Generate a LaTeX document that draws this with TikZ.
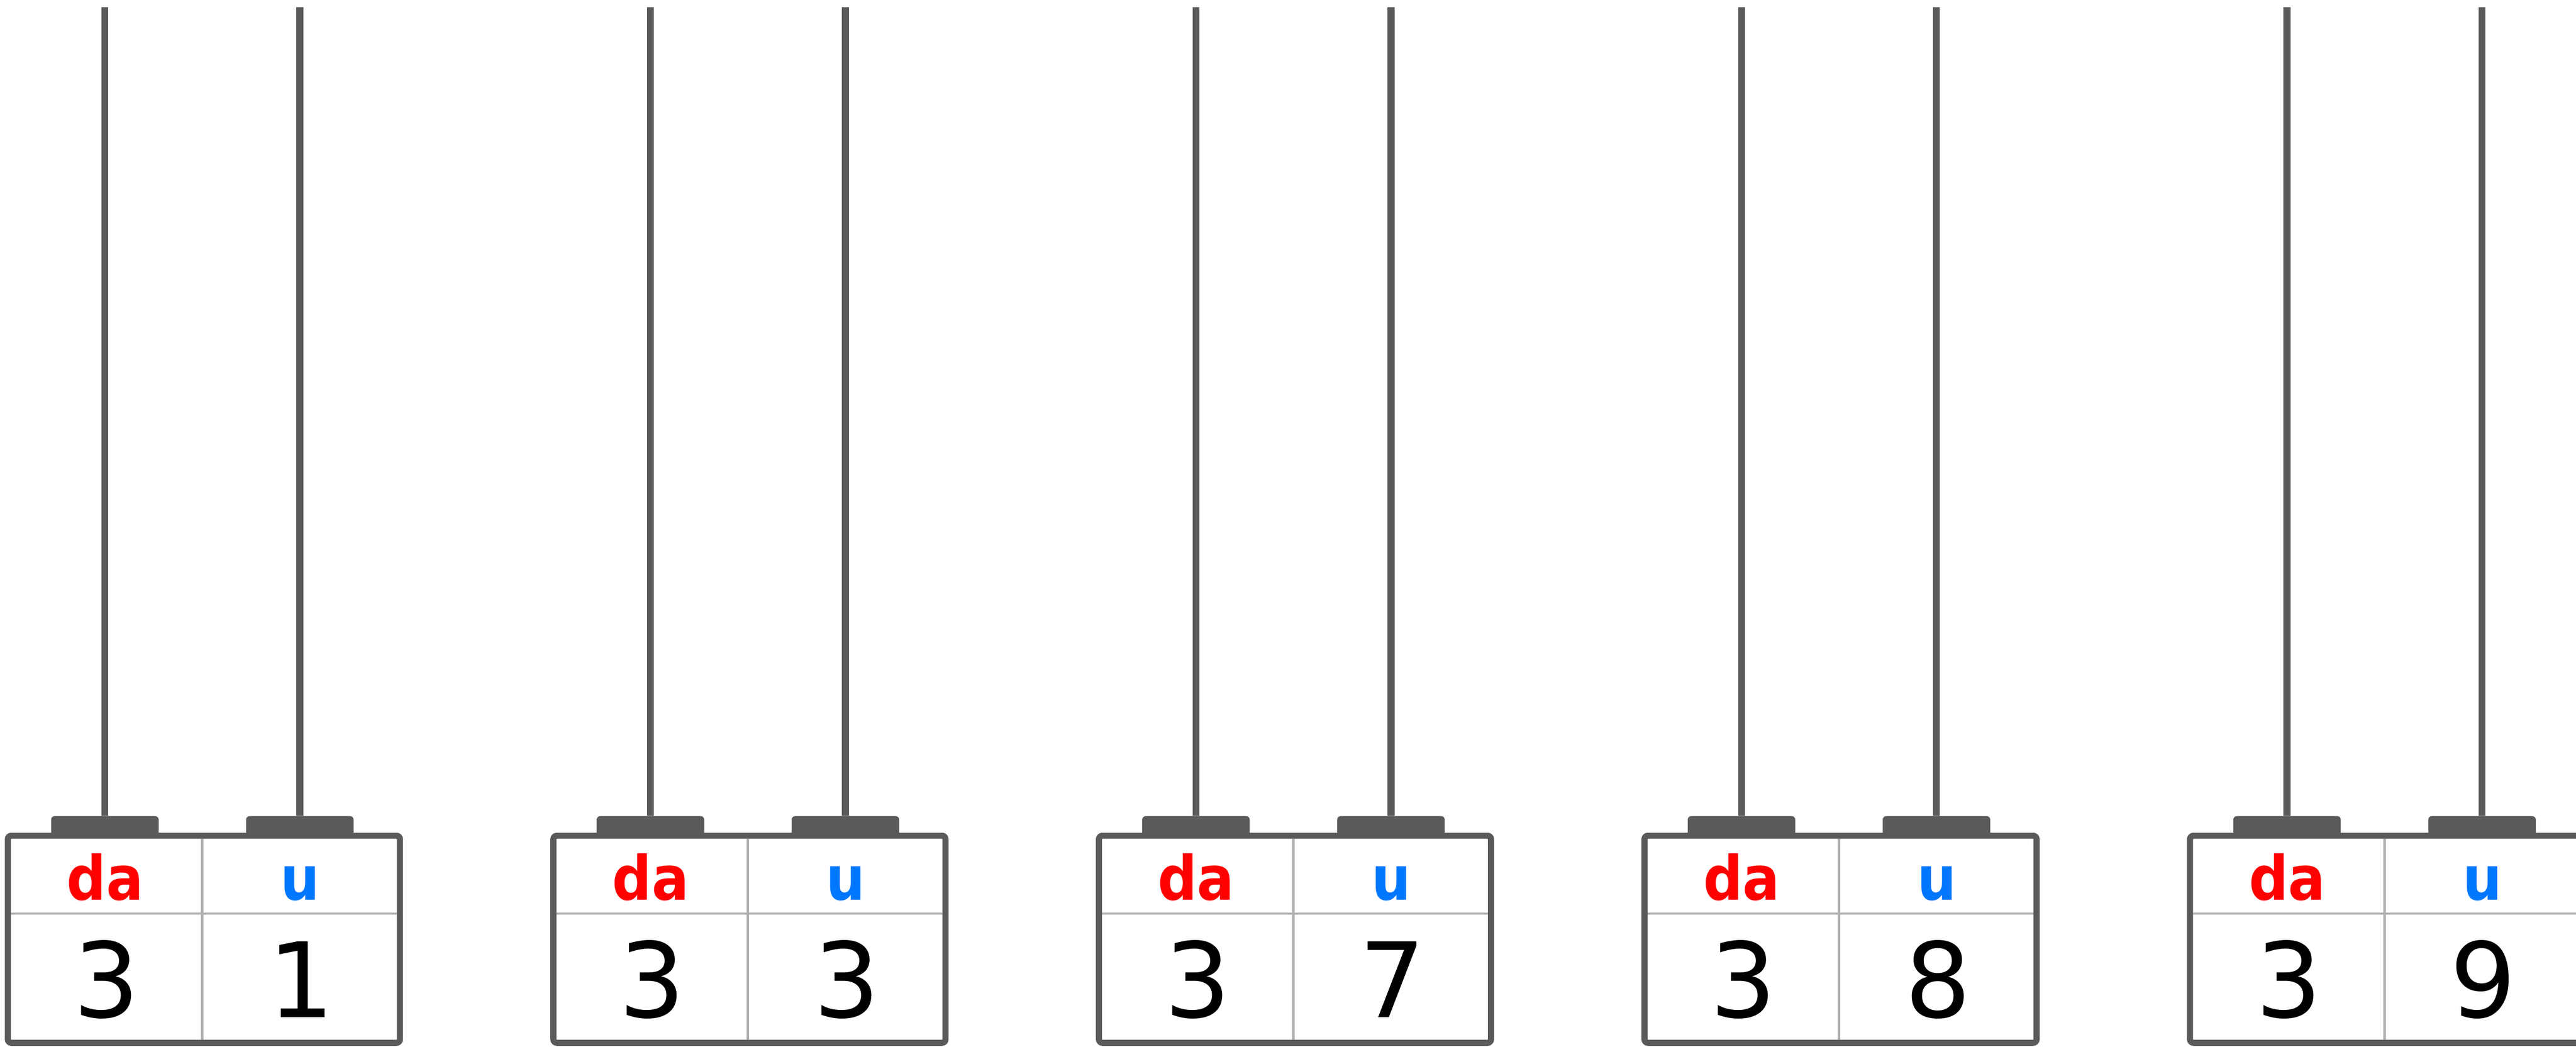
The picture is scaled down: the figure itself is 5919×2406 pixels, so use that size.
\documentclass[tikz,border=0pt]{standalone}
\usepackage{fontspec}
\setmainfont{DejaVu Sans}
\newfontfamily\labelfont{DejaVu Sans Condensed}[BoldFont={* Bold}]
\definecolor{frame}{RGB}{90,90,90}
\definecolor{grid}{RGB}{176,176,176}
\definecolor{dared}{RGB}{255,0,0}
\definecolor{ublue}{RGB}{0,119,255}
\tikzset{
  unitbox/.style={draw=frame, line width=1.4mm, rectangle, rounded corners=0.8mm,
    minimum width=90.1mm, minimum height=47.6mm, inner sep=0pt, fill=white},
  tabbox/.style={fill=frame, rectangle, rounded corners=0.8mm,
    minimum width=24.7mm, minimum height=4.5mm, inner sep=0pt},
  rod/.style={draw=frame, line width=1.6mm},
  divline/.style={draw=grid, line width=0.55mm},
  lbl/.style={anchor=base, inner sep=0pt, font=\labelfont\bfseries\fontsize{40pt}{40pt}\selectfont},
  num/.style={anchor=base, inner sep=0pt, text=black, font=\fontsize{68pt}{68pt}\selectfont}
}
\begin{document}
\begin{tikzpicture}[x=0.1mm,y=-0.1mm]
\useasboundingbox (0,0) rectangle (5919,2406);
\foreach \i/\d in {0/1,1/3,2/7,3/8,4/9}{
  \pgfmathsetmacro{\ox}{\i*1253.5}
  \node[unitbox] (box\i) at (\ox+468.5, 2159) {};
  \draw[divline] (\ox+465, 1928) -- (\ox+465, 2390);
  \draw[divline] (\ox+25, 2100) -- (\ox+912, 2100);
  \node[tabbox] (tabA\i) at (\ox+241, 1898.5) {};
  \node[tabbox] (tabB\i) at (\ox+689, 1898.5) {};
  \coordinate (topA\i) at (\ox+241, 17);
  \coordinate (topB\i) at (\ox+689, 17);
  \draw[rod] (topA\i) -- (tabA\i.north);
  \draw[rod] (topB\i) -- (tabB\i.north);
  \node[lbl, text=dared] (da\i) at (\ox+241.5, 2069) {da};
  \node[lbl, text=ublue] (u\i) at (\ox+690, 2069) {u};
  \node[num] (na\i) at (\ox+245, 2338) {3};
  \node[num] (nb\i) at (\ox+692, 2338) {\d};
}
\end{tikzpicture}
\end{document}
